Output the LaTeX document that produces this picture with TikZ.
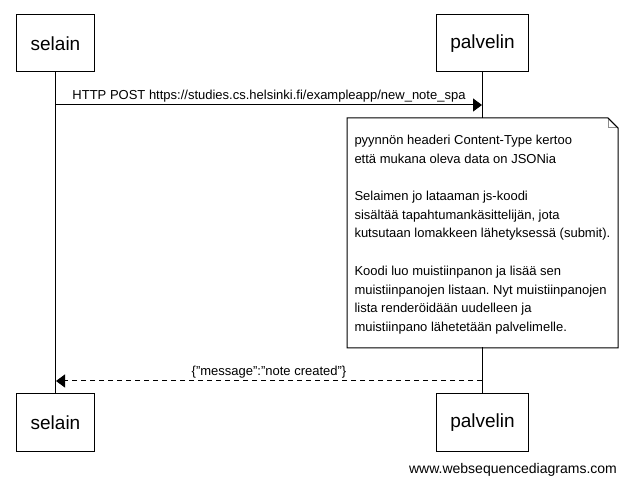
\documentclass[tikz,border=0pt]{standalone}
\usepackage{fontspec}
\setmainfont{Liberation Sans}
\usetikzlibrary{%
  arrows.meta,% Triangle tips
  positioning%
}
\frenchspacing

\begin{document}
\begin{tikzpicture}[
    x=1pt,y=-1pt,
    >={Triangle[length=9pt,width=13pt]},
    line width=1pt,
    actor/.style={rectangle,draw,fill=white,minimum height=57pt,
        inner xsep=14pt,font=\fontsize{19}{22}\selectfont},
    message/.style={above,inner sep=2pt,font=\fontsize{13}{15}\selectfont},
    reply/.style={->,dash pattern=on 5pt off 4pt},
    notebox/.style={rectangle,fill=white,inner sep=0pt,anchor=north west,
        minimum width=270pt,minimum height=229pt},
    notetext/.style={align=left,inner sep=0pt,anchor=north west,
        font=\fontsize{13}{18.7}\selectfont},
    fold/.style={draw=black!45}
  ]

    \useasboundingbox (0,0) rectangle (627,486);

    % osallistujat
    \node (selain top)   [actor] at (55.5,43.5)  {selain};
    \node (palvelin top) [actor] at (482.5,43.5) {palvelin};
    \node (selain bot)   [actor] at (55.5,422.5) {selain};
    \node (palvelin bot) [actor] at (482.5,422.5) {palvelin};

    % elaman viivat
    \draw (selain top) -- (selain bot);
    \draw (palvelin top) -- (palvelin bot);

    % viestit
    \coordinate (post from)  at (56,105);
    \coordinate (post to)    at (482,105);
    \coordinate (reply from) at (482,381);
    \coordinate (reply to)   at (56,381);

    \draw [->] (post from) -- node [message]
        {HTTP POST https://studies.cs.helsinki.fi/exampleapp/new\_note\_spa}
        (post to);
    \draw [reply] (reply from) -- node [message]
        {\{"message":"note created"\}} (reply to);

    % huomautus
    \node (note) [notebox] at (347,118) {};
    \draw (note.north west) -- ([xshift=-10pt]note.north east)
        coordinate (fold a)
        -- ([yshift=-10pt]note.north east) coordinate (fold b)
        -- (note.south east) -- (note.south west) -- cycle;
    \draw [fold] (fold a) |- (fold b);
    \draw (fold a) -- (fold b);
    \node (note text) [notetext] at (354,134.5) {%
        pyynnön headeri Content-Type kertoo\\
        että mukana oleva data on JSONia\\[18.7pt]
        Selaimen jo lataaman js-koodi\\
        sisältää tapahtumankäsittelijän, jota\\
        kutsutaan lomakkeen lähetyksessä (submit).\\[18.7pt]
        Koodi luo muistiinpanon ja lisää sen\\
        muistiinpanojen listaan. Nyt muistiinpanojen\\
        lista renderöidään uudelleen ja\\
        muistiinpano lähetetään palvelimelle.};

    \node (credit) [font=\fontsize{14}{16}\selectfont] at (513,470)
        {www.websequencediagrams.com};
\end{tikzpicture}
\end{document}
